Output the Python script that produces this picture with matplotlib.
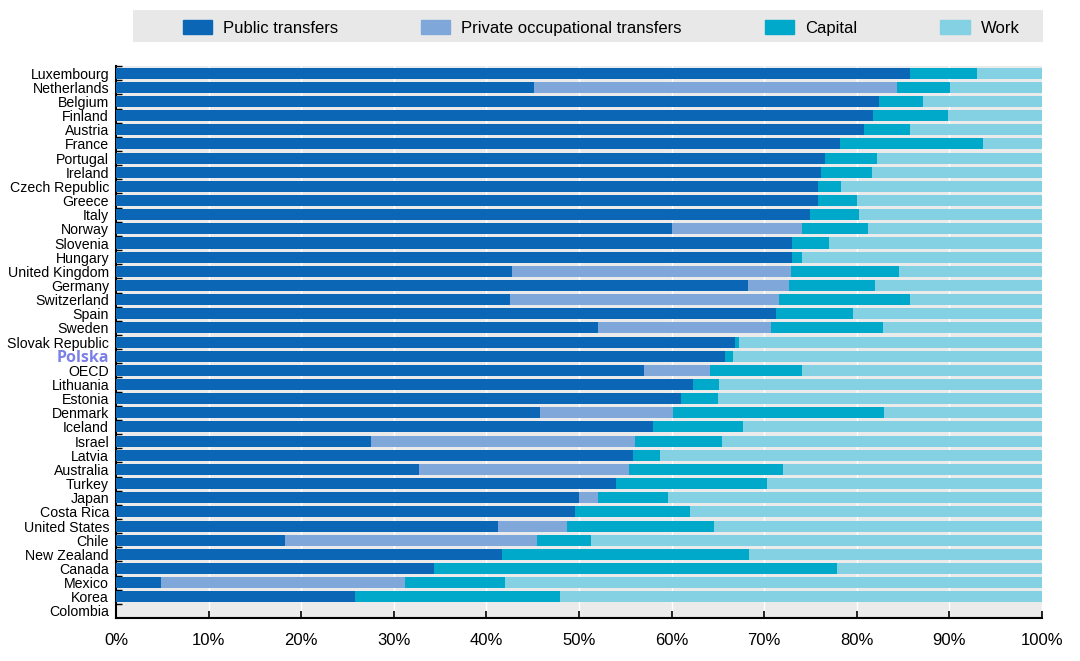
import numpy as np
import matplotlib; matplotlib.use("Agg")
import matplotlib.pyplot as plt
from matplotlib.patches import Patch, Rectangle

plt.rcParams["font.family"] = ["Liberation Sans", "DejaVu Sans"]

countries = ["Luxembourg", "Netherlands", "Belgium", "Finland", "Austria", "France", "Portugal",
             "Ireland", "Czech Republic", "Greece", "Italy", "Norway", "Slovenia", "Hungary",
             "United Kingdom", "Germany", "Switzerland", "Spain", "Sweden", "Slovak Republic",
             "Polska", "OECD", "Lithuania", "Estonia", "Denmark", "Iceland", "Israel", "Latvia",
             "Australia", "Turkey", "Japan", "Costa Rica", "United States", "Chile",
             "New Zealand", "Canada", "Mexico", "Korea", "Colombia"]
# shares in % (Colombia: no data)
public = [85.7, 45.1, 82.4, 81.7, 80.8, 78.2, 76.6, 76.1, 75.8, 75.8, 75.0, 60.0, 73.0, 73.0,
          42.8, 68.3, 42.5, 71.3, 52.1, 66.8, 65.8, 57.0, 62.3, 61.0, 45.8, 58.0, 27.5, 55.8,
          32.7, 54.0, 50.0, 49.6, 41.2, 18.2, 41.7, 34.3, 4.9, 25.8, 0]
private = [0, 39.2, 0, 0, 0, 0, 0, 0, 0, 0, 0, 14.1, 0, 0,
           30.1, 4.4, 29.1, 0, 18.6, 0, 0, 7.2, 0, 0, 14.4, 0, 28.5, 0,
           22.7, 0, 2.0, 0, 7.5, 27.3, 0, 0, 26.3, 0, 0]
capital = [7.3, 5.8, 4.8, 8.1, 4.9, 15.4, 5.6, 5.5, 2.5, 4.2, 5.2, 7.1, 4.0, 1.1,
           11.7, 9.3, 14.1, 8.3, 12.1, 0.5, 0.8, 9.9, 2.8, 4.0, 22.7, 9.7, 9.4, 2.9,
           16.6, 16.3, 7.6, 12.4, 15.9, 5.8, 26.7, 43.6, 10.8, 22.1, 0]
has_data = [c != "Colombia" for c in countries]

colors = ["#0b66b5", "#7fa7da", "#00a8c9", "#83d1e2"]
labels = ["Public transfers", "Private occupational transfers", "Capital", "Work"]

pub = np.array(public); prv = np.array(private); cap = np.array(capital)
work = np.where(has_data, 100 - pub - prv - cap, 0)

fig = plt.figure(figsize=(10.8, 6.61), dpi=100)
ax = fig.add_axes([0.1074, 0.065, 0.8574, 0.835])
ax.set_facecolor("#ebebeb")
y = np.arange(len(countries))
left = np.zeros(len(countries))
for vals, col in zip([pub, prv, cap, work], colors):
    ax.barh(y, vals, left=left, height=0.78, color=col, zorder=3)
    left += vals

ax.set_xlim(0, 100)
ax.set_ylim(len(countries) - 0.5, -0.5)
ax.set_xticks(np.arange(0, 101, 10))
ax.set_xticklabels([f"{v}%" for v in range(0, 101, 10)], fontsize=12)
ax.tick_params(axis="x", direction="in", length=5, width=1.2, pad=11)
ax.grid(axis="x", color="white", lw=1, zorder=1)

ax.set_yticks(y)
ax.set_yticklabels(countries, fontsize=10.2)
ax.tick_params(axis="y", length=0, pad=5)
ax.set_yticks(np.arange(-0.5, len(countries) - 0.5, 1), minor=True)
ax.tick_params(axis="y", which="minor", direction="in", length=4, width=1)
for t in ax.get_yticklabels():
    if t.get_text() == "Polska":
        t.set_color("#7b80e6"); t.set_fontweight("bold"); t.set_fontsize(11.5)
        t.set_family(["Open Sans", "DejaVu Sans"])

for s in ["top", "right"]:
    ax.spines[s].set_visible(False)
ax.spines["left"].set_linewidth(1.5)
ax.spines["bottom"].set_linewidth(1.5)

# legend strip
fig.patches.append(Rectangle((133 / 1080, 1 - 42 / 661), 910 / 1080, 32 / 661,
                             transform=fig.transFigure, facecolor="#e8e8e8",
                             edgecolor="none", zorder=0))
handles = [Patch(color=c) for c in colors]
fig.legend(handles, labels, loc="center", ncol=4, frameon=False,
           bbox_to_anchor=(601 / 1080, 1 - 28 / 661), fontsize=12,
           handlelength=1.75, handleheight=0.9, handletextpad=0.65, columnspacing=5.0)

fig.savefig("out.png", dpi=100)
